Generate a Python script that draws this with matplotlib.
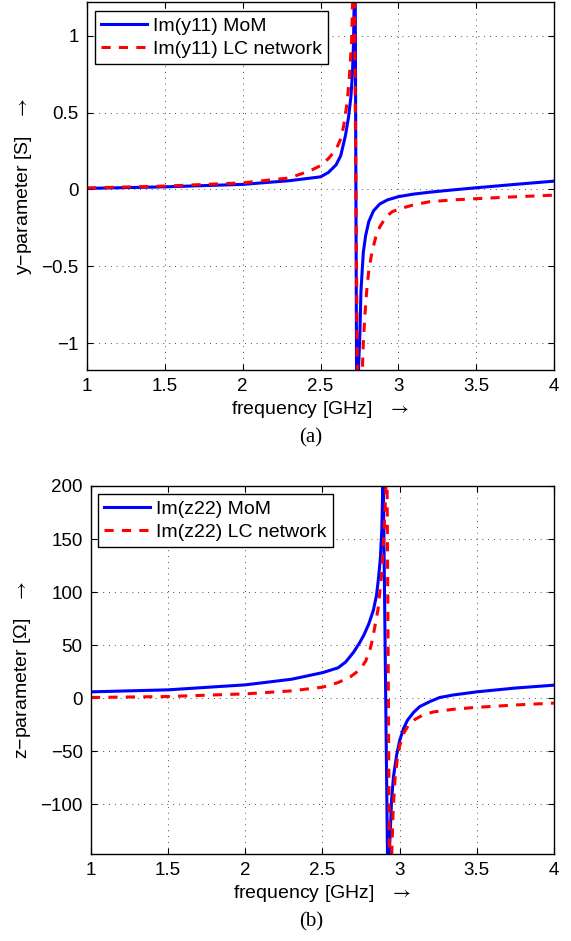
import matplotlib
matplotlib.use('Agg')
import matplotlib.pyplot as plt

# (a) Im(y11) in S
f_y11_mom = [1.0, 1.5, 2.0, 2.3, 2.5, 2.55, 2.6, 2.63, 2.66, 2.68, 2.695, 2.705, 2.712, 2.722,
             2.733, 2.745, 2.753, 2.76, 2.775, 2.79, 2.81, 2.84, 2.88, 2.93, 3.0, 3.1, 3.2,
             3.35, 3.5, 3.75, 4.0]
y11_mom = [0.007, 0.017, 0.033, 0.057, 0.082, 0.11, 0.16, 0.22, 0.35, 0.47, 0.60, 0.75, 0.95, 1.6,
           -1.6, -1.15, -0.94, -0.66, -0.41, -0.30, -0.21, -0.14, -0.095, -0.068, -0.047, -0.03, -0.018,
           -0.003, 0.011, 0.033, 0.054]

f_y11_lc = [1.0, 1.5, 2.0, 2.3, 2.4, 2.45, 2.5, 2.55, 2.6, 2.63, 2.65, 2.67, 2.685, 2.70, 2.715,
            2.74, 2.765, 2.775, 2.785, 2.796, 2.81, 2.83, 2.855, 2.88, 2.92, 2.96, 3.01, 3.1,
            3.2, 3.35, 3.5, 3.7, 4.0]
y11_lc = [0.01, 0.022, 0.043, 0.075, 0.11, 0.13, 0.155, 0.20, 0.26, 0.33, 0.42, 0.56, 0.72, 0.97, 1.6,
          -1.6, -1.3, -1.0, -0.82, -0.67, -0.53, -0.41, -0.31, -0.245, -0.18, -0.145, -0.125, -0.10,
          -0.08, -0.068, -0.06, -0.05, -0.037]

# (b) Im(z22) in Ohm
f_z22_mom = [1.0, 1.5, 2.0, 2.3, 2.5, 2.6, 2.65, 2.7, 2.74, 2.77, 2.8, 2.83, 2.85, 2.862, 2.875,
             2.884, 2.893, 2.925, 2.935, 2.948, 2.96, 2.98, 3.0, 3.024, 3.05, 3.09, 3.13, 3.2,
             3.26, 3.35, 3.5, 3.75, 4.0]
z22_mom = [5.9, 7.8, 12.5, 17.8, 24, 28.5, 34, 43, 52, 60, 70, 83, 97, 112, 132,
           158, 215, -200, -140, -95, -74, -54, -40, -29, -21, -13.5, -8, -3,
           0.6, 3, 5.9, 9.5, 12.2]

f_z22_lc = [1.0, 1.5, 2.0, 2.3, 2.5, 2.6, 2.68, 2.744, 2.78, 2.808, 2.825, 2.84, 2.86, 2.873,
            2.885, 2.894, 2.91, 2.916, 2.938, 2.948, 2.958, 2.97, 2.985, 3.0, 3.03, 3.06, 3.1,
            3.15, 3.22, 3.35, 3.5, 3.75, 4.0]
z22_lc = [0.6, 1.5, 4.0, 6.8, 10.3, 14.6, 20, 27, 35, 46, 56, 68, 84, 102,
          120, 143, 193, 260, -260, -150, -105, -76, -57, -45, -32, -25, -20,
          -16, -13, -10.5, -8.7, -6.5, -4.7]

freq_ticks = [1, 1.5, 2, 2.5, 3, 3.5, 4]
freq_labels = ['1', '1.5', '2', '2.5', '3', '3.5', '4']
y_ticks = [-1, -0.5, 0, 0.5, 1]
y_labels = ['\u22121', '\u22120.5', '0', '0.5', '1']
z_ticks = [-100, -50, 0, 50, 100, 150, 200]
z_labels = ['\u2212100', '\u221250', '0', '50', '100', '150', '200']

plt.rcParams['font.family'] = ['Liberation Sans', 'DejaVu Sans']
plt.rcParams['font.size'] = 14
plt.rcParams['mathtext.fontset'] = 'stix'

fig = plt.figure(figsize=(5.71, 9.41), dpi=100)
ax1 = fig.add_axes([87 / 571, 1 - 370 / 941, 467 / 571, 368 / 941])
ax2 = fig.add_axes([91 / 571, 1 - 854 / 941, 463 / 571, 368 / 941])


def draw(ax, f1, v1, f2, v2, lab1, lab2, ylim, yt, ytl, ylabel, anchor):
    ax.plot(f1, v1, color=(0, 0, 1), lw=2.2, label=lab1)
    ax.plot(f2, v2, color=(1, 0, 0), lw=2.2, dashes=(3.0, 2.7), label=lab2)
    ax.set_xlim(1, 4)
    ax.set_ylim(*ylim)
    ax.set_xticks(freq_ticks)
    ax.set_xticklabels(freq_labels)
    ax.set_yticks(yt)
    ax.set_yticklabels(ytl)
    ax.grid(True, color='0.3', linestyle=(0, (1, 5)), lw=0.7)
    ax.tick_params(direction='in', length=4, width=0.8, top=True, right=True,
                   labelsize=13.5, pad=6)
    for s in ax.spines.values():
        s.set_linewidth(1.0)
    ax.set_xlabel('frequency [GHz]   $\\rightarrow$', labelpad=3)
    ax.set_ylabel(ylabel + '   $\\rightarrow$', labelpad=5)
    leg = ax.legend(loc='upper left', bbox_to_anchor=anchor, borderaxespad=0,
                    fancybox=False, edgecolor='k', framealpha=1, fontsize=14,
                    handlelength=2.4, handletextpad=0.3, borderpad=0.3, labelspacing=0.3)
    leg.get_frame().set_linewidth(1.0)


draw(ax1, f_y11_mom, y11_mom, f_y11_lc, y11_lc, 'Im(y11) MoM', 'Im(y11) LC network',
     (-1.175, 1.22), y_ticks, y_labels, 'y\u2212parameter [S]', (0.017, 0.975))
draw(ax2, f_z22_mom, z22_mom, f_z22_lc, z22_lc, 'Im(z22) MoM', 'Im(z22) LC network',
     (-147, 200), z_ticks, z_labels, 'z\u2212parameter [\u03a9]', (0.015, 0.978))

fig.text(311 / 571, 1 - 438 / 941, '(a)', family='Liberation Serif', fontsize=15,
         ha='center', va='center')
fig.text(311 / 571, 1 - 922 / 941, '(b)', family='Liberation Serif', fontsize=15,
         ha='center', va='center')

fig.savefig('out.png', dpi=100)
